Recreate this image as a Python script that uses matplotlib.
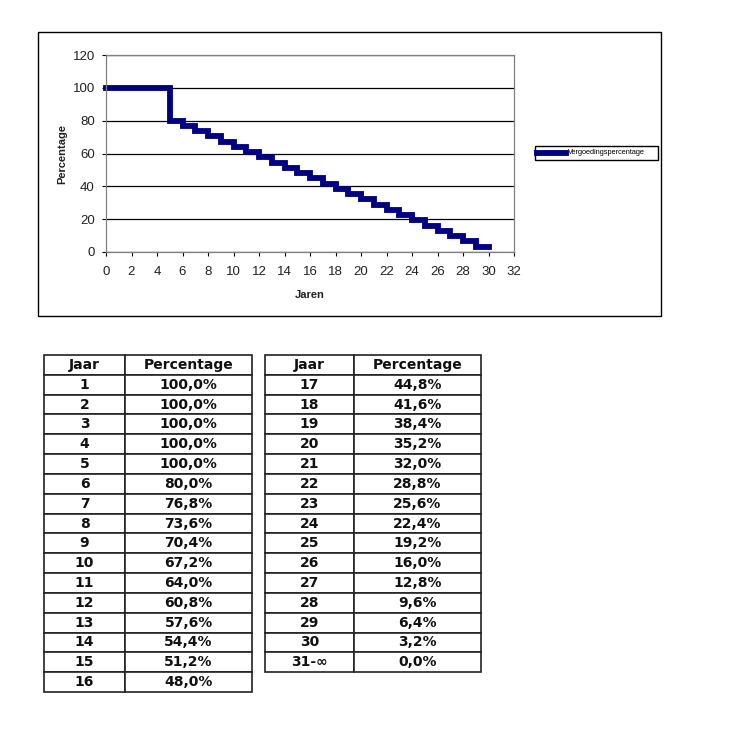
import matplotlib.pyplot as plt
from matplotlib.patches import Rectangle
from matplotlib.lines import Line2D

# data: reimbursement percentage per year
years = list(range(1, 31))
percentages = [100.0, 100.0, 100.0, 100.0, 100.0, 80.0, 76.8, 73.6, 70.4, 67.2,
               64.0, 60.8, 57.6, 54.4, 51.2, 48.0, 44.8, 41.6, 38.4, 35.2,
               32.0, 28.8, 25.6, 22.4, 19.2, 16.0, 12.8, 9.6, 6.4, 3.2]
last_label = "31-\u221e"
last_pct = 0.0

W, H = 736, 739
fig = plt.figure(figsize=(W / 100, H / 100), dpi=100)


def fbox(x0, y0, x1, y1):
    """pixel box (top-left origin) -> figure fraction [l, b, w, h]"""
    return [x0 / W, 1 - y1 / H, (x1 - x0) / W, (y1 - y0) / H]


# outer chart frame
fig.patches.append(Rectangle((38 / W, 1 - 316 / H), (661 - 38) / W, (316 - 32) / H,
                             transform=fig.transFigure, fill=False,
                             edgecolor="black", linewidth=1))

ax = fig.add_axes(fbox(106, 55, 514, 252))
xs = [y - 1 for y in years] + [years[-1]]
ys = percentages + [percentages[-1]]
ax.plot(xs, ys, drawstyle="steps-post", color="#000080", linewidth=4.2,
        solid_joinstyle="miter", clip_on=False)
ax.set_xlim(0, 32)
ax.set_ylim(0, 120)
ax.set_xticks(range(0, 33, 2))
ax.set_yticks(range(0, 121, 20))
ax.yaxis.grid(True, color="black", linewidth=0.9)
ax.set_axisbelow(True)
for s in ax.spines.values():
    s.set_color("#808080")
    s.set_linewidth(0.9)
ax.tick_params(direction="out", length=3, width=0.8, color="black",
               labelsize=9.5, labelcolor="#222222", pad=5)
ax.tick_params(axis="x", pad=7)
for lab in ax.get_xticklabels() + ax.get_yticklabels():
    lab.set_family("Liberation Sans")
ax.set_xlabel("Jaren", fontsize=8, fontweight="bold", family="Liberation Sans",
              labelpad=9, color="#222222")
ax.set_ylabel("Percentage", fontsize=8, fontweight="bold", family="Liberation Sans",
              labelpad=4, color="#222222")

# legend box
fig.patches.append(Rectangle((535 / W, 1 - 160 / H), (658 - 535) / W, (160 - 146) / H,
                             transform=fig.transFigure, fill=True, facecolor="white",
                             edgecolor="black", linewidth=1))
fig.lines.append(Line2D([537 / W, 566 / W], [1 - 152.5 / H, 1 - 152.5 / H],
                        transform=fig.transFigure, color="#000080", linewidth=4.2))
fig.text(568 / W, 1 - 153 / H, "Vergoedingspercentage", fontsize=5.3,
         family="Liberation Sans", va="center", ha="left")


def draw_table(box, rows, col_frac):
    tax = fig.add_axes(fbox(*box))
    tax.axis("off")
    cells = [["Jaar", "Percentage"]] + rows
    tbl = tax.table(cellText=cells, cellLoc="center", bbox=[0, 0, 1, 1],
                    colWidths=col_frac)
    tbl.auto_set_font_size(False)
    for (r, c), cell in tbl.get_celld().items():
        cell.set_linewidth(1.2)
        cell.set_edgecolor("#222222")
        cell.get_text().set_fontsize(10)
        cell.get_text().set_fontweight("bold")
        cell.get_text().set_color("#111111")


fmt = lambda v: f"{v:.1f}".replace(".", ",") + "%"
left_rows = [[str(y), fmt(p)] for y, p in zip(years[:16], percentages[:16])]
right_rows = [[str(y), fmt(p)] for y, p in zip(years[16:], percentages[16:])]
right_rows.append([last_label, fmt(last_pct)])

row_h = (692 - 355) / 17
draw_table((44, 355, 252, 692), left_rows, [0.39, 0.61])
draw_table((265, 355, 481, 355 + row_h * 16), right_rows, [0.41, 0.59])

fig.savefig("out.png", dpi=100)
